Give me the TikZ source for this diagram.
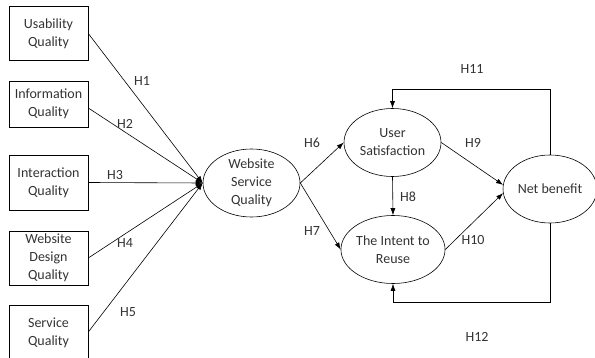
\documentclass[tikz,border=0pt]{standalone}
\usepackage{fontspec}
\setmainfont{Carlito}
\usetikzlibrary{shapes.geometric,arrows.meta}
\definecolor{txt}{HTML}{333333}
\begin{document}
\begin{tikzpicture}[x=1pt,y=-1pt,
  font=\fontsize{14}{18}\selectfont,
  box/.style={draw, line width=0.6pt, minimum width=79pt, inner sep=0pt, align=center, text=txt},
  oval/.style={draw, ellipse, line width=0.6pt, inner sep=0pt, minimum width=97pt, minimum height=68pt, align=center, text=txt},
  arr/.style={-{Latex[length=7pt,width=5pt]}, line width=0.6pt},
  lbl/.style={text=txt, inner sep=0pt}]
\clip (0,0) rectangle (595,358);
% boxes
\node[box, minimum height=54.5pt] (b1) at (48.5,33.5) {Usability\\Quality};
\node[box, minimum height=46pt] (b2) at (48.5,104) {Information\\Quality};
\node[box, minimum height=55pt] (b3) at (48.5,182.5) {Interaction\\Quality};
\node[box, minimum height=54pt] (b4) at (48.5,258) {Website\\Design\\Quality};
\node[box, minimum height=56pt] (b5) at (48.5,333) {Service\\Quality};
% ellipses
\node[oval] (wsq) at (251.5,183) {Website\\Service\\Quality};
\node[oval] (us) at (392.5,142.5) {User\\Satisfaction};
\node[oval] (ir) at (393,249.5) {The Intent to\\Reuse};
\node[oval, minimum width=94pt] (nb) at (550,189) {Net benefit};
% connectors H1-H5
\draw[arr] (b1.east) -- (wsq.west);
\draw[arr] ([yshift=-4pt]b2.east) -- (wsq.west);
\draw[arr] (b3.east) -- (wsq.west);
\draw[arr] (b4.east) -- (wsq.west);
\draw[arr] ([yshift=1pt]b5.east) -- (wsq.west);
% H6-H10
\draw[arr] (wsq.east) -- (us.west);
\draw[arr] (wsq.east) -- (ir.west);
\draw[arr] (us.south) -- (ir.north);
\draw[arr] (us.east) -- (nb.175);
\draw[arr] (ir.east) -- (nb.185);
% H11, H12 loops
\coordinate (t11) at (551,89);
\coordinate (t12) at (551,302);
\draw[arr] (nb.north) -- (nb.north |- t11) -| (us.north);
\draw[arr] (nb.south) -- (nb.south |- t12) -| (ir.south);
% labels
\node[lbl] (h1) at (142,81) {H1};
\node[lbl] (h2) at (125,124) {H2};
\node[lbl] (h3) at (115,175) {H3};
\node[lbl] (h4) at (125,243) {H4};
\node[lbl] (h5) at (128,312) {H5};
\node[lbl] (h6) at (312,143) {H6};
\node[lbl] (h7) at (312,231) {H7};
\node[lbl] (h8) at (408,197) {H8};
\node[lbl] (h9) at (473,143) {H9};
\node[lbl] (h10) at (473,240) {H10};
\node[lbl] (h11) at (472,69) {H11};
\node[lbl] (h12) at (477,337) {H12};
\end{tikzpicture}
\end{document}
